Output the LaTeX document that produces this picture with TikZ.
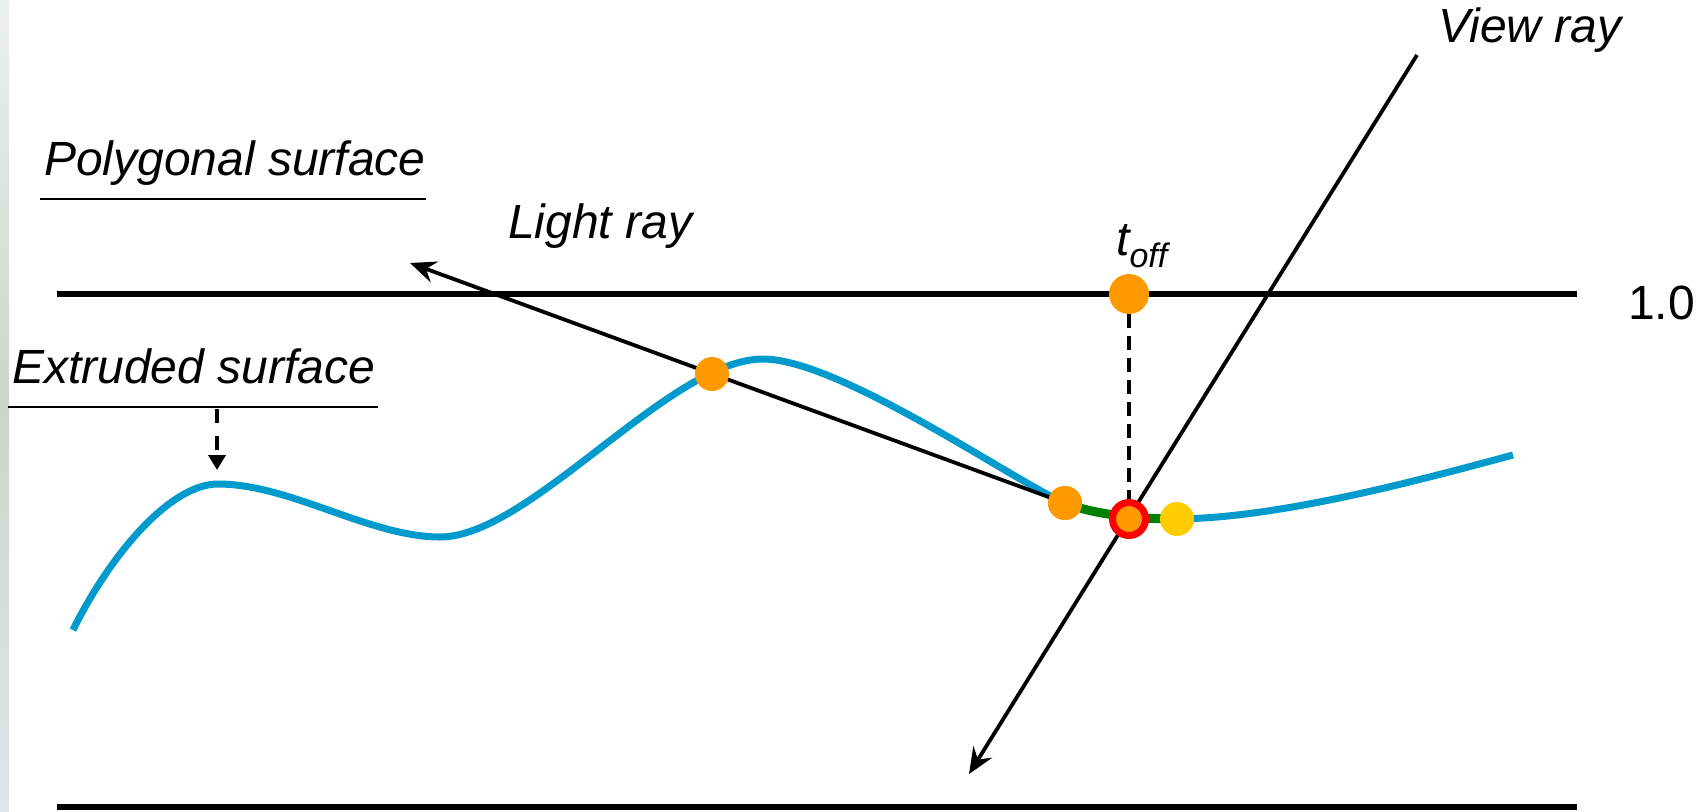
\documentclass[tikz,border=0pt]{standalone}
\usepackage{fontspec}
\setmainfont{Liberation Sans}
\usetikzlibrary{arrows.meta}
\definecolor{blueC}{RGB}{0,155,204}
\definecolor{orangeC}{RGB}{255,153,0}
\definecolor{yellowC}{RGB}{255,204,0}
\definecolor{greenC}{RGB}{0,128,0}
\definecolor{redC}{RGB}{255,0,0}
\definecolor{stripTop}{RGB}{236,239,239}
\definecolor{stripMid}{RGB}{203,214,203}
\definecolor{stripBot}{RGB}{224,229,233}
\tikzset{
  lbl/.style={font=\fontsize{48}{56}\selectfont\itshape, inner sep=0pt, anchor=base west},
  numlbl/.style={font=\fontsize{48}{56}\selectfont, inner sep=0pt, anchor=base west},
  surf/.style={line width=6pt, black},
  uline/.style={line width=2pt, black},
  ray/.style={line width=3.8pt, black},
  terrain/.style={line width=7pt, blueC},
  dot/.style={circle, fill=orangeC, minimum size=34pt, inner sep=0pt},
}
\begin{document}
\begin{tikzpicture}[x=1pt,y=-1pt]
\useasboundingbox (0,0) rectangle (1707,811);
% left edge strip
\shade[top color=stripTop, bottom color=stripBot, middle color=stripMid] (0,0) rectangle (9,811);
% surfaces
\draw[surf] (57,294) -- (1577,294);
\draw[surf] (57,807) -- (1577,807);
% labels
\node[lbl] (poly) at (44,175) {Polygonal surface};
\draw[uline] (40,199) -- (426,199);
\node[lbl] (extr) at (12,383) {Extruded surface};
\draw[uline] (8,407) -- (378,407);
\node[lbl] (light) at (508,238) {Light ray};
\node[lbl] (view) at (1438,42) {View ray};
\node[numlbl] (one) at (1628,319) {1.0};
\node[inner sep=0pt, anchor=base west] (toffl) at (1116,255)
  {{\fontsize{48}{56}\selectfont\itshape t}{\raisebox{-12pt}{\fontsize{34}{40}\selectfont\itshape off}}};
% extruded arrow
\coordinate (ea) at (217,409);
\coordinate (eb) at (217,470);
\draw[line width=4.5pt, dash pattern=on 14pt off 13pt, -{Triangle[length=15pt,width=17pt]}] (ea) -- (eb);
% terrain curve
\draw[terrain] (73,630) .. controls (110,555) and (170,484) .. (218,484)
  .. controls (290,484) and (370,537) .. (440,537)
  .. controls (530,537) and (670,359) .. (763,359)
  .. controls (840,359) and (1020,485) .. (1065,503)
  .. controls (1095,515) and (1140,519) .. (1177,519)
  .. controls (1280,518) and (1420,480) .. (1513,455);
\draw[line width=9pt, greenC] (1065,503) .. controls (1095,515) and (1140,519) .. (1177,519);
% points
\node[dot] (o2) at (1065,503) {};
\coordinate (lrtip) at (410,263);
\draw[ray, -{Stealth[length=26pt,width=22pt,inset=9pt]}] (o2.center) -- (lrtip);
\coordinate (vtop) at (1417,55);
\coordinate (vtip) at (969,774);
\draw[ray, -{Stealth[length=26pt,width=22pt,inset=9pt]}] (vtop) -- (vtip);
\node[dot] (o2b) at (1065,503) {};
\node[dot] (o1) at (712,374) {};
\node[dot, fill=yellowC] (y1) at (1177,519) {};
\node[dot, minimum size=40pt] (tdot) at (1129,294) {};
\node[circle, draw=redC, line width=7pt, fill=orangeC, minimum size=33pt, inner sep=0pt] (hit) at (1129,519) {};
\draw[ray, dash pattern=on 14pt off 8pt] (tdot.south) -- (hit.north);
\end{tikzpicture}
\end{document}
